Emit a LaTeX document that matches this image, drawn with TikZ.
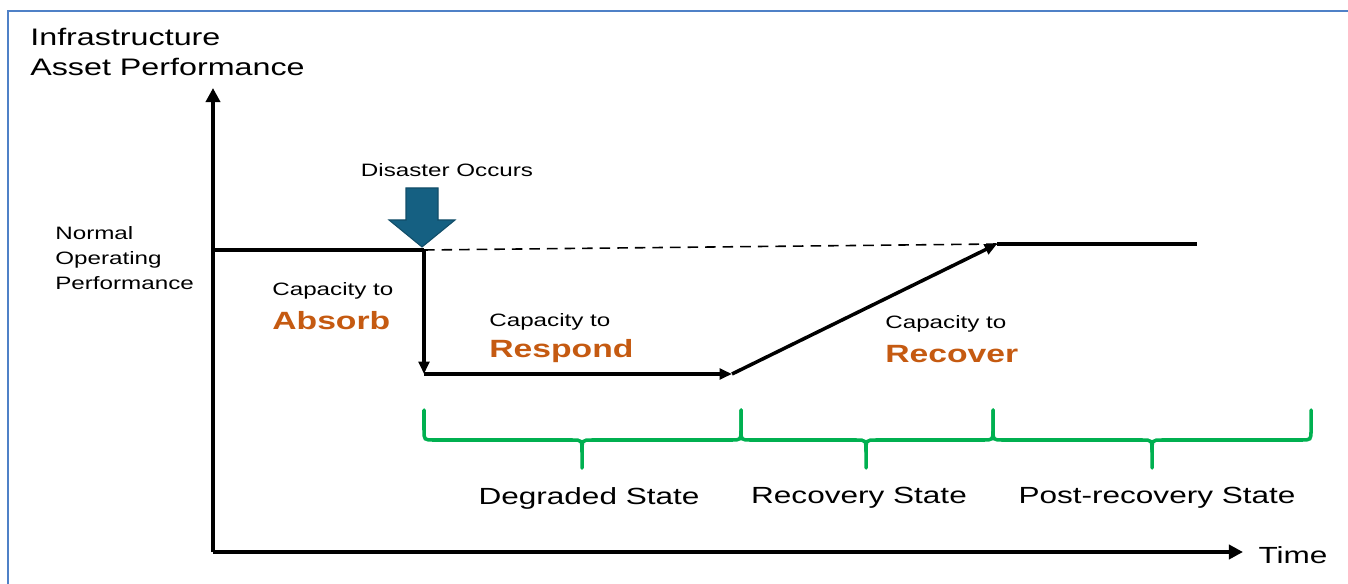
\documentclass[tikz,border=0pt]{standalone}
\usepackage{fontspec}
\setmainfont[FakeStretch=1.35]{Liberation Sans}
\usetikzlibrary{arrows.meta}
\definecolor{frameblue}{HTML}{4F81C7}
\definecolor{disasterblue}{HTML}{156082}
\definecolor{keyorange}{HTML}{C55A11}
\definecolor{bracegreen}{HTML}{00B050}
\tikzset{
  axisline/.style={line width=2.7pt,-{Triangle[length=8pt,width=8pt]}},
  perfline/.style={line width=2pt},
  perfarrow/.style={perfline,-{Triangle[length=7pt,width=6pt]}},
  statebrace/.style={bracegreen,line width=2pt,line cap=round},
  titletext/.style={inner sep=0pt,align=left,font=\fontsize{13.6}{17.6}\selectfont},
  smalltext/.style={inner sep=0pt,align=left,font=\fontsize{10.2}{14.2}\selectfont},
  captext/.style={inner sep=0pt,anchor=west,font=\fontsize{10.2}{12}\selectfont},
  keyword/.style={inner sep=0pt,anchor=west,text=keyorange,font=\fontsize{14.2}{17}\selectfont\bfseries},
  statetext/.style={inner sep=0pt,font=\fontsize{13.3}{16}\selectfont}
}
\begin{document}
\begin{tikzpicture}[x=0.02cm,y=-0.02cm]
  \useasboundingbox (0,0) rectangle (1348,584);
  % frame edges
  \draw[frameblue,line width=1.1pt] (8,584) -- (8,11) -- (1348,11);
  % axes
  \coordinate (origin) at (213,552);
  \coordinate (ytop) at (213,88);
  \coordinate (xend) at (1243,552);
  \draw[axisline] (origin) -- (ytop);
  \draw[axisline] (origin) -- (xend);
  \node[titletext,anchor=west] (ytitle) at (30,52) {Infrastructure\\Asset Performance};
  \node[statetext] (xtitle) at (1293,555) {Time};
  \node[smalltext,anchor=west] (normal) at (55,258) {Normal\\Operating\\Performance};
  % performance curve
  \coordinate (start) at (213,250);
  \coordinate (hit) at (424,250);
  \coordinate (low) at (424,374);
  \coordinate (lowend) at (732,374);
  \coordinate (back) at (997,244);
  \coordinate (finish) at (1197,244);
  \draw[perfline] (start) -- (hit);
  \draw[perfarrow] (hit) -- (low);
  \draw[perfarrow] (low) -- (lowend);
  \draw[perfarrow] (lowend) -- (back);
  \draw[perfline] (back) -- (finish);
  \draw[line width=0.9pt,dash pattern=on 6pt off 4pt] (hit) -- (back);
  % disaster arrow
  \filldraw[fill=disasterblue,draw=disasterblue!80!black,line width=0.6pt]
    (406,188) -- (438,188) -- (438,220) -- (455,220) -- (422,247)
    -- (389,220) -- (406,220) -- cycle;
  \node[smalltext] (disaster) at (447,170) {Disaster Occurs};
  % capacities
  \node[captext] (absorbcap) at (272,291) {Capacity to};
  \node[keyword] (absorb) at (272,321) {Absorb};
  \node[captext] (respondcap) at (489,322) {Capacity to};
  \node[keyword] (respond) at (489,351) {Respond};
  \node[captext] (recovercap) at (885,324) {Capacity to};
  \node[keyword] (recover) at (885,354) {Recover};
  % state braces
  \foreach \xa/\xm/\xb in {424/582/741, 741/866/993, 993/1152/1311} {
    \draw[statebrace] (\xa,410) -- (\xa,430) .. controls (\xa,440) .. (\xa+10,440)
      -- (\xm-10,440) .. controls (\xm,440) .. (\xm,452) -- (\xm,468);
    \draw[statebrace] (\xm,452) .. controls (\xm,440) .. (\xm+10,440)
      -- (\xb-10,440) .. controls (\xb,440) .. (\xb,430) -- (\xb,410);
  }
  \node[statetext] (degraded) at (589,498) {Degraded State};
  \node[statetext] (recovery) at (859,498) {Recovery State};
  \node[statetext] (postrecovery) at (1157,498) {Post-recovery State};
\end{tikzpicture}
\end{document}
